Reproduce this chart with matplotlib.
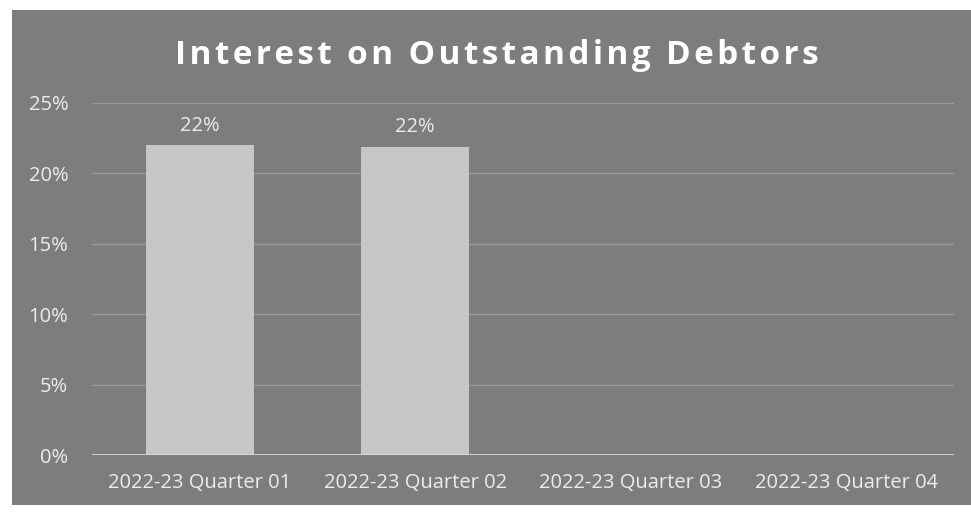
import numpy as np
import matplotlib.pyplot as plt
from matplotlib.patches import Rectangle
from matplotlib.ticker import PercentFormatter

# datos del grafico
quarters = ['2022-23 Quarter 01', '2022-23 Quarter 02', '2022-23 Quarter 03', '2022-23 Quarter 04']
interest = [0.22, 0.219, 0.0, 0.0]
labels = ['22%', '22%', '', '']
title = 'Interest on Outstanding Debtors'

bg = '#7d7d7d'
bar_color = '#c6c6c6'
text_color = '#ececec'

plt.rcParams['font.family'] = ['Open Sans', 'DejaVu Sans']

fig = plt.figure(figsize=(9.71, 5.15), dpi=100, facecolor='white')
# panel gris del grafico escaneado
fig.patches.append(Rectangle((12 / 971, 10 / 515), 959 / 971, 495 / 515,
                             transform=fig.transFigure, facecolor=bg,
                             edgecolor='none', zorder=-1))

ax = fig.add_axes([0.0947, 0.1165, 0.8878, 0.6835])
ax.set_facecolor('none')

x = np.arange(len(quarters))
bars = ax.bar(x, interest, width=0.5, color=bar_color, zorder=3)
for b, lab in zip(bars, labels):
    if lab:
        ax.annotate(lab, (b.get_x() + b.get_width() / 2, b.get_height()),
                    xytext=(0, 7), textcoords='offset points',
                    ha='center', va='bottom', fontsize=14.5, color=text_color)

ax.set_xlim(-0.5, 3.5)
ax.set_ylim(0, 0.25)
ax.set_yticks(np.arange(0, 0.26, 0.05))
ax.yaxis.set_major_formatter(PercentFormatter(1.0, decimals=0))
ax.set_xticks(x)
ax.set_xticklabels(quarters)
ax.grid(axis='y', color='#9a9a9a', linewidth=1, zorder=1)
ax.axhline(0, color='#d8d8d8', linewidth=2, zorder=4)

for s in ax.spines.values():
    s.set_visible(False)
ax.tick_params(axis='both', length=0, colors=text_color, labelsize=14.5)
ax.tick_params(axis='y', pad=17)
ax.tick_params(axis='x', pad=13)

# titulo con letras espaciadas
spaced = '\u200a'.join(title)
fig.text(0.512, 0.893, spaced, ha='center', va='center', fontsize=24,
         fontweight='bold', color='white')

fig.savefig('out.png', dpi=100, facecolor='white')
